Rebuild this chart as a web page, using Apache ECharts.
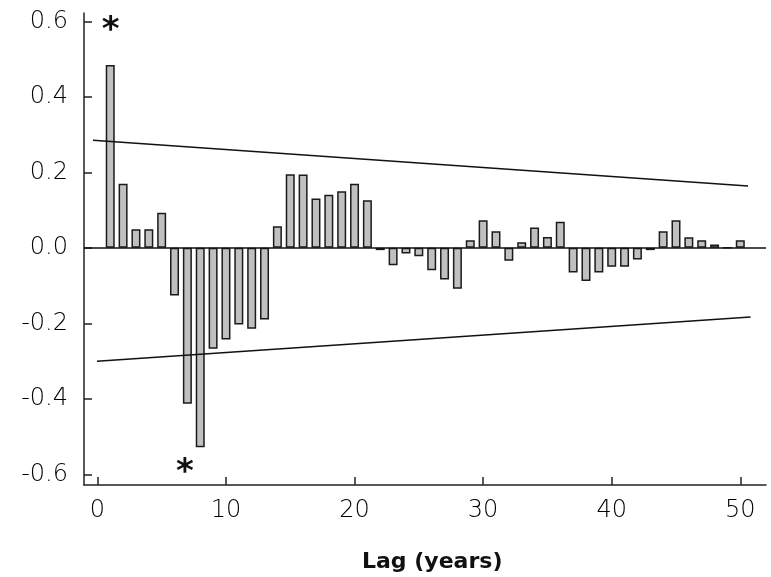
<!DOCTYPE html>
<html>
<head>
<meta charset="utf-8">
<script src="https://cdn.jsdelivr.net/npm/echarts@6/dist/echarts.min.js"></script>
<style>
  html, body { margin: 0; padding: 0; background: #fff; }
  #acf { width: 771px; height: 577px; }
</style>
</head>
<body>
<div id="acf"></div>
<script>
var lags = [1, 2, 3, 4, 5, 6, 7, 8, 9, 10,
  11, 12, 13, 14, 15, 16, 17, 18, 19, 20,
  21, 22, 23, 24, 25, 26, 27, 28, 29, 30,
  31, 32, 33, 34, 35, 36, 37, 38, 39, 40,
  41, 42, 43, 44, 45, 46, 47, 48, 49, 50];
var acf = [0.484, 0.170, 0.049, 0.049, 0.093, -0.126, -0.413, -0.528, -0.267, -0.243,
  -0.203, -0.214, -0.190, 0.057, 0.195, 0.194, 0.131, 0.141, 0.150, 0.170,
  0.126, -0.006, -0.046, -0.015, -0.022, -0.059, -0.084, -0.108, 0.020, 0.073,
  0.044, -0.034, 0.015, 0.054, 0.029, 0.069, -0.065, -0.088, -0.065, -0.050,
  -0.050, -0.031, -0.006, 0.044, 0.073, 0.028, 0.020, 0.009, 0, 0.020];

// confidence bounds (start / end)
var upperLag = [-0.34, 50.6];
var upperVal = [0.285, 0.164];
var lowerLag = [-0.03, 50.8];
var lowerVal = [-0.300, -0.183];

// significant lags marked with *
var starLag = [1.03, 6.8];
var starVal = [0.589, -0.58];

var xTicks = [0, 10, 20, 30, 40, 50];
var yTicks = [-0.6, -0.4, -0.2, 0, 0.2, 0.4, 0.6];

var chart = echarts.init(document.getElementById('acf'));

function pairs(xs, ys) {
  var out = [];
  for (var i = 0; i < xs.length; i++) {
    out.push([xs[i], ys[i]]);
  }
  return out;
}

var stars = [];
for (var i = 0; i < starLag.length; i++) {
  stars.push({ coord: [starLag[i], starVal[i]] });
}

var axisCol = '#222';

option = {
  backgroundColor: '#fff',
  animation: false,
  grid: { left: 84, right: 5, top: 13, bottom: 92 },
  xAxis: {
    type: 'value',
    min: -1.04,
    max: 52,
    axisLine: { show: true, onZero: false, lineStyle: { color: axisCol, width: 1.5 } },
    axisTick: { show: true, inside: true, length: 8, customValues: xTicks, lineStyle: { color: axisCol, width: 1.5 } },
    axisLabel: {
      customValues: xTicks,
      margin: 14,
      color: '#000',
      fontFamily: 'DejaVu Sans',
      fontWeight: 200,
      fontSize: 24
    },
    splitLine: { show: false }
  },
  yAxis: {
    type: 'value',
    min: -0.628,
    max: 0.622,
    axisLine: { show: true, onZero: false, lineStyle: { color: axisCol, width: 1.5 } },
    axisTick: { show: true, inside: true, length: 8, customValues: yTicks, lineStyle: { color: axisCol, width: 1.5 } },
    axisLabel: {
      customValues: yTicks,
      margin: 16,
      color: '#000',
      fontFamily: 'DejaVu Sans',
      fontWeight: 200,
      fontSize: 24,
      formatter: function (v) { return v.toFixed(1); }
    },
    splitLine: { show: false }
  },
  graphic: [{
    type: 'text',
    left: 432 - 70,
    top: 551,
    style: {
      text: 'Lag (years)',
      fill: '#111',
      font: 'bold 22px "DejaVu Sans"'
    }
  }],
  series: [
    {
      name: 'ACF',
      type: 'bar',
      barWidth: 9,
      data: pairs(lags, acf),
      itemStyle: { color: '#c0c0c0', borderColor: '#1a1a1a', borderWidth: 1.5 },
      markLine: {
        silent: true,
        symbol: 'none',
        label: { show: false },
        lineStyle: { color: '#111', width: 1.5, type: 'solid' },
        data: [{ yAxis: 0 }]
      },
      markPoint: {
        silent: true,
        symbol: 'rect',
        symbolSize: 1,
        itemStyle: { color: 'rgba(0,0,0,0)' },
        label: {
          show: true,
          position: 'inside',
          formatter: '*',
          color: '#111',
          fontFamily: 'DejaVu Sans',
          fontWeight: 'bold',
          fontSize: 34,
          offset: [0, 6]
        },
        data: stars
      }
    },
    {
      name: 'upper',
      type: 'line',
      symbol: 'none',
      data: pairs(upperLag, upperVal),
      lineStyle: { color: '#111', width: 1.5 },
      z: 3
    },
    {
      name: 'lower',
      type: 'line',
      symbol: 'none',
      data: pairs(lowerLag, lowerVal),
      lineStyle: { color: '#111', width: 1.5 },
      z: 3
    }
  ]
};

if (option && typeof option === "object") {
  chart.setOption(option, true);
}
</script>
</body>
</html>
